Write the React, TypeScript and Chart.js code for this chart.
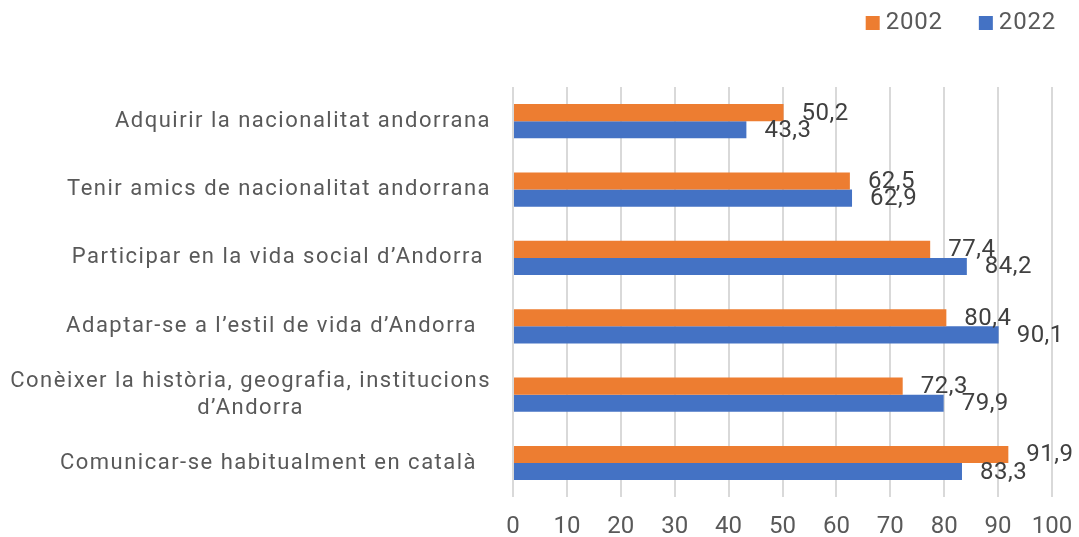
import React, { useEffect, useRef } from "react";
import { Chart, registerables } from "chart.js";

Chart.register(...registerables);

const categories: string[][] = [
  ["Adquirir la nacionalitat andorrana"],
  ["Tenir amics de nacionalitat andorrana"],
  ["Participar en la vida social d’Andorra "],
  ["Adaptar-se a l’estil de vida d’Andorra  "],
  ["Conèixer la història, geografia, institucions", "d’Andorra"],
  ["Comunicar-se habitualment en català  "],
];
const values2002 = [50.2, 62.5, 77.4, 80.4, 72.3, 91.9];
const values2022 = [43.3, 62.9, 84.2, 90.1, 79.9, 83.3];
const seriesNames = ["2002", "2022"];
const seriesColors = ["#ED7D31", "#4472C4"];
const xTicks = [0, 10, 20, 30, 40, 50, 60, 70, 80, 90, 100];

const FONT = "Roboto, 'Noto Sans', sans-serif";

const drawPlugin = {
  id: "customDraw",
  afterDraw(chart: any) {
    const ctx = chart.ctx as any;
    const yScale = chart.scales.y;
    ctx.save();
    // category labels
    ctx.fillStyle = "#595959";
    ctx.font = `22px ${FONT}`;
    ctx.letterSpacing = "1.5px";
    ctx.textBaseline = "middle";
    const rightX = chart.chartArea.left - 22;
    const lineH = 27;
    categories.forEach((lines, i) => {
      const cy = yScale.getPixelForValue(i);
      const widths = lines.map((l) => ctx.measureText(l).width);
      const maxW = Math.max(...widths);
      const startY = cy - ((lines.length - 1) * lineH) / 2;
      lines.forEach((l, j) => {
        ctx.textAlign = "left";
        const x = lines.length > 1 ? rightX - maxW / 2 - widths[j] / 2 : rightX - widths[j];
        ctx.fillText(l, x, startY + j * lineH);
      });
    });
    // data labels
    ctx.fillStyle = "#404040";
    ctx.font = `24px ${FONT}`;
    ctx.letterSpacing = "0.5px";
    ctx.textAlign = "left";
    chart.data.datasets.forEach((ds: any, di: number) => {
      const meta = chart.getDatasetMeta(di);
      meta.data.forEach((bar: any, i: number) => {
        const v = ds.data[i] as number;
        ctx.fillText(v.toFixed(1).replace(".", ","), bar.x + 18, bar.y + 1);
      });
    });
    // legend
    ctx.font = `24px ${FONT}`;
    ctx.letterSpacing = "0.8px";
    ctx.fillStyle = "#595959";
    ctx.textBaseline = "middle";
    const legendY = 23;
    const box = 14;
    const gapBox = 6;
    const gapItem = 36;
    const widths = seriesNames.map((n) => ctx.measureText(n).width);
    let total = 0;
    widths.forEach((w, i) => {
      total += box + gapBox + w + (i < widths.length - 1 ? gapItem : 0);
    });
    let x = 1056 - total;
    seriesNames.forEach((n, i) => {
      ctx.fillStyle = seriesColors[i];
      ctx.fillRect(x, legendY - box / 2, box, box);
      x += box + gapBox;
      ctx.fillStyle = "#595959";
      ctx.textAlign = "left";
      ctx.fillText(n, x, legendY);
      x += widths[i] + gapItem;
    });
    ctx.restore();
  },
};

export default function App() {
  const canvasRef = useRef<HTMLCanvasElement | null>(null);
  useEffect(() => {
    if (!canvasRef.current) return;
    const chart = new Chart(canvasRef.current, {
      type: "bar",
      data: {
        labels: categories.map((c) => c.join(" ")),
        datasets: [
          {
            label: seriesNames[0],
            data: values2002,
            backgroundColor: seriesColors[0],
            categoryPercentage: 0.5,
            barPercentage: 1,
          },
          {
            label: seriesNames[1],
            data: values2022,
            backgroundColor: seriesColors[1],
            categoryPercentage: 0.5,
            barPercentage: 1,
          },
        ],
      },
      options: {
        indexAxis: "y",
        animation: false,
        responsive: true,
        maintainAspectRatio: false,
        layout: { padding: { left: 513, right: 27, top: 87, bottom: -19 } },
        plugins: {
          legend: { display: false },
          tooltip: { enabled: false },
        },
        scales: {
          y: { display: false },
          x: {
            min: 0,
            max: 100,
            afterBuildTicks: (axis: any) => {
              axis.ticks = xTicks.map((v) => ({ value: v }));
            },
            afterFit: (axis: any) => {
              axis.paddingLeft = 0;
              axis.paddingRight = 0;
            },
            grid: { color: "#D9D9D9", lineWidth: 2, drawTicks: false },
            border: { display: false },
            ticks: {
              color: "#595959",
              font: { family: FONT, size: 24 },
              padding: 15,
            },
          },
        },
      },
      plugins: [drawPlugin],
    });
    return () => chart.destroy();
  }, []);
  return (
    <div style={{ position: "fixed", left: 0, top: 0, width: 1079, height: 537, background: "#fff" }}>
      <canvas ref={canvasRef} />
    </div>
  );
}
